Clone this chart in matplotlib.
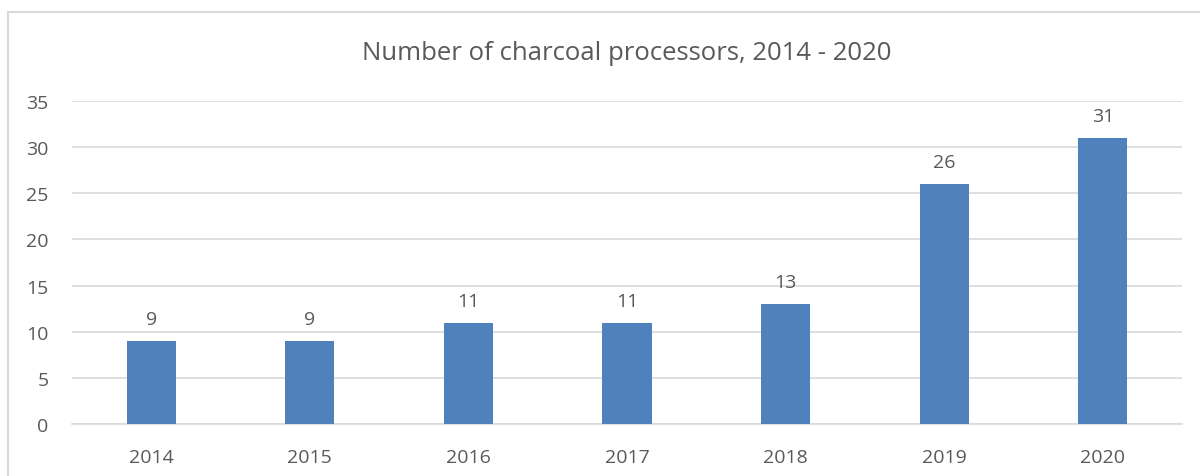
import matplotlib
matplotlib.use("Agg")
import matplotlib.pyplot as plt
from matplotlib.patches import Rectangle

years = ["2014", "2015", "2016", "2017", "2018", "2019", "2020"]
processors = [9, 9, 11, 11, 13, 26, 31]

plt.rcParams['font.family'] = ['Open Sans', 'DejaVu Sans']
text_col = '#595959'

fig = plt.figure(figsize=(12, 4.77), dpi=100)
ax = fig.add_axes([0.06, 0.109, 0.925, 0.677])

x = range(len(years))
bars = ax.bar(x, processors, width=0.31, color='#4F81BD', zorder=3)
for b, v in zip(bars, processors):
    ax.text(b.get_x() + b.get_width() / 2, v + 1.4, str(v), ha='center', va='bottom',
            fontsize=14, color=text_col)

ax.set_xlim(-0.5, len(years) - 0.5)
ax.set_ylim(0, 35)
ax.set_yticks(range(0, 36, 5))
ax.set_xticks(list(x))
ax.set_xticklabels(years)
ax.yaxis.grid(True, color='#D9D9D9', linewidth=1.2, zorder=0)
ax.tick_params(axis='both', length=0, labelsize=14, labelcolor=text_col)
ax.tick_params(axis='y', pad=17)
ax.tick_params(axis='x', pad=17)
for s in ['top', 'right', 'left']:
    ax.spines[s].set_visible(False)
ax.spines['bottom'].set_color('#D9D9D9')
ax.spines['bottom'].set_linewidth(1.2)

ax.set_title("Number of charcoal processors, 2014 - 2020", fontsize=18.5,
             color=text_col, pad=30)

# outer chart frame
fig.patches.append(Rectangle((8 / 1200, -0.1), 1.2, 1 - 13 / 477 + 0.1,
                             transform=fig.transFigure, fill=False,
                             edgecolor='#D9D9D9', linewidth=1.5))

fig.savefig("out.png", dpi=100)
